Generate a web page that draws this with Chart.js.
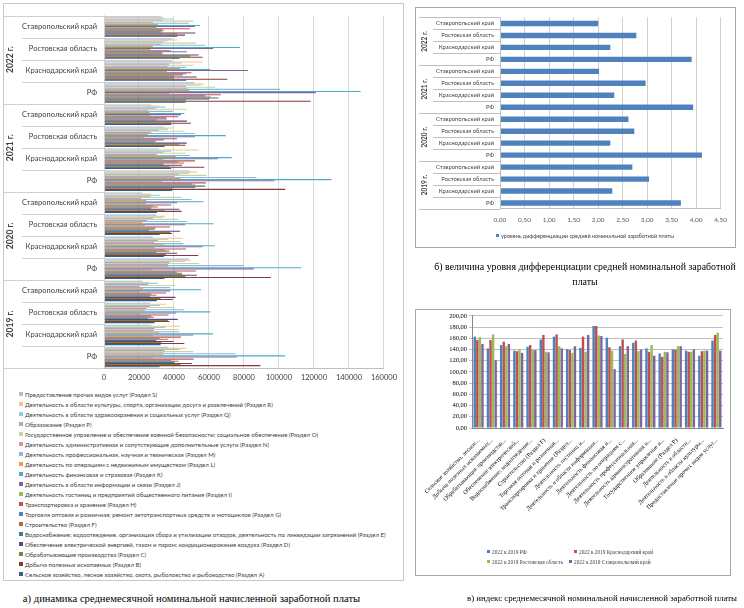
<!DOCTYPE html>
<html lang="ru">
<head>
<meta charset="utf-8">
<script src="https://cdn.jsdelivr.net/npm/chart.js@4.4.0/dist/chart.umd.min.js"></script>
<style>
body { margin:0; width:744px; height:608px; background:#fff; position:relative; overflow:hidden; }
.ramka { position:absolute; border:1px solid #c8c8c8; box-sizing:border-box; }
canvas { position:absolute; }
.podpis { position:absolute; font-family:'Liberation Serif','DejaVu Serif',serif; color:#000; white-space:nowrap; text-align:center; }
#legA { position:absolute; left:19px; top:390px; font-family:Lato,'Liberation Sans',sans-serif; font-size:6.05px; color:#404040; }
#legA div { height:10px; line-height:10px; white-space:nowrap; }
.sw { display:inline-block; width:4px; height:4px; margin-right:2px; vertical-align:middle; position:relative; top:-1px; }
.leg { position:absolute; white-space:nowrap; color:#404040; line-height:8px; }
</style>
</head>
<body>

<div class="ramka" style="left:3px;top:3px;width:401px;height:578px;"></div>
<canvas id="chartA" width="398" height="384" style="left:4px;top:4px;"></canvas>
<div id="legA"></div>
<div class="podpis" style="left:0px;top:591px;width:383px;font-size:10.6px;line-height:15px;">а) динамика среднемесячной номинальной начисленной заработной платы</div>

<div class="ramka" style="left:415px;top:7px;width:321px;height:241px;border-color:#a6a6a6;"></div>
<canvas id="chartB" width="318" height="238" style="left:416px;top:8px;"></canvas>
<div id="legB"></div>
<div class="podpis" style="left:430px;top:259px;width:310px;font-size:9.9px;line-height:15px;">б) величина уровня дифференциации средней номинальной заработной<br>платы</div>

<div class="ramka" style="left:415px;top:309px;width:316px;height:267px;border-color:#a6a6a6;"></div>
<canvas id="chartC" width="313" height="230" style="left:416px;top:310px;"></canvas>
<div id="legC"></div>
<div class="podpis" style="left:462px;top:591px;width:280px;font-size:8.8px;line-height:15px;">в) индекс среднемесячной номинальной начисленной заработной платы</div>

<script>
// --- а) зарплата по разделам ---
var regiony = ["Ставропольский край", "Ростовская область", "Краснодарский край", "РФ"];
var gody = ["2022 г.", "2021 г.", "2020 г.", "2019 г."];

// порядок значений: 2022 (Ставр, Рост, Крас, РФ), 2021 ..., 2020 ..., 2019 ...
var razdelS = [32700, 38900, 38900, 51600, 27000, 34600, 31400, 49100, 21900, 29900, 28000, 48400, 22300, 26500, 27000, 36500];
var razdelR = [34200, 41800, 56300, 57300, 31800, 39300, 54100, 53100, 27000, 35200, 45000, 49700, 26100, 35500, 43500, 46900];
var razdelQ = [39700, 36500, 44600, 55400, 35200, 36500, 38400, 48400, 32100, 33600, 36500, 46500, 30800, 31800, 35000, 43100];
var razdelP = [33600, 34000, 37400, 46900, 29500, 31400, 34000, 43100, 26500, 28000, 30800, 37400, 25100, 26100, 28900, 34600];
var razdelO = [51000, 52500, 51200, 63500, 47300, 46100, 46500, 58600, 44000, 42700, 44000, 54400, 40800, 40300, 42700, 51000];
var razdelN = [28000, 32700, 36500, 47800, 25100, 27000, 30200, 40300, 21400, 24600, 28900, 36500, 20400, 24200, 28400, 34000];
var razdelM = [48400, 57800, 47000, 100700, 39300, 52000, 49100, 87100, 50000, 47400, 45400, 79900, 37800, 45900, 43100, 75200];
var razdelL = [30800, 28000, 43500, 48800, 26100, 25100, 41200, 43700, 24200, 21900, 34600, 37000, 22300, 23200, 31400, 33600];
var razdelK = [55000, 77700, 60700, 146700, 45900, 69600, 73000, 130000, 56700, 62600, 63300, 112600, 55400, 60700, 62400, 103600];
var razdelJ = [52000, 62400, 82400, 121100, 44000, 52000, 65200, 97300, 41800, 46500, 56300, 85600, 37800, 41200, 51000, 75800];
var razdelI = [29900, 26500, 36000, 37400, 26100, 23200, 33600, 33100, 23800, 23200, 28900, 27000, 20400, 20400, 28000, 28000];
var razdelH = [49100, 38000, 50000, 66700, 42500, 41800, 52000, 58200, 38400, 37800, 46900, 52500, 35500, 36900, 44000, 51200];
var razdelG = [33300, 47300, 47000, 57800, 35500, 34200, 42500, 50300, 28000, 29500, 34600, 41600, 27000, 27000, 31800, 38400];
var razdelF = [34200, 33300, 45000, 61000, 35900, 29900, 45700, 52200, 30800, 28900, 37400, 44600, 29900, 28500, 36500, 42700];
var razdelE = [32700, 33300, 40000, 65400, 30200, 28900, 34000, 57800, 27000, 25700, 29900, 44600, 26100, 25100, 29900, 40300];
var razdelD = [52200, 54000, 53000, 60100, 47400, 47300, 44600, 52200, 43100, 43500, 41800, 53100, 40800, 42100, 39700, 50300];
var razdelC = [41800, 49300, 40000, 46900, 38400, 43100, 37400, 39300, 34600, 38000, 35500, 46500, 32300, 36500, 32700, 43700];
var razdelB = [46300, 56300, 70500, 118100, 49700, 46500, 57300, 103600, 44400, 38900, 53900, 95400, 39300, 37400, 45900, 89400];
var razdelA = [41800, 43100, 47000, 46500, 38400, 34600, 38400, 38900, 30200, 31800, 34200, 34600, 30200, 28900, 32300, 31800];

var nazvaniya = [
  "Предоставление прочих видов услуг (Раздел S)",
  "Деятельность в области культуры, спорта, организации досуга и развлечений (Раздел R)",
  "Деятельность в области здравоохранения и социальных услуг (Раздел Q)",
  "Образование (Раздел P)",
  "Государственное управление и обеспечение военной безопасности; социальное обеспечение (Раздел O)",
  "Деятельность административная и сопутствующие дополнительные услуги (Раздел N)",
  "Деятельность профессиональная, научная и техническая (Раздел M)",
  "Деятельность по операциям с недвижимым имуществом (Раздел L)",
  "Деятельность финансовая и страховая (Раздел K)",
  "Деятельность в области информации и связи (Раздел J)",
  "Деятельность гостиниц и предприятий общественного питания (Раздел I)",
  "Транспортировка и хранение (Раздел H)",
  "Торговля оптовая и розничная; ремонт автотранспортных средств и мотоциклов (Раздел G)",
  "Строительство (Раздел F)",
  "Водоснабжение; водоотведение, организация сбора и утилизации отходов, деятельность по ликвидации загрязнений  (Раздел E)",
  "Обеспечение электрической энергией, газом и паром; кондиционирование воздуха  (Раздел D)",
  "Обрабатывающие производства (Раздел C)",
  "Добыча полезных ископаемых (Раздел B)",
  "Сельское хозяйство, лесное хозяйство, охота, рыболовство и рыбоводство (Раздел A)"
];
var razdely = [razdelS, razdelR, razdelQ, razdelP, razdelO, razdelN, razdelM, razdelL, razdelK, razdelJ,
               razdelI, razdelH, razdelG, razdelF, razdelE, razdelD, razdelC, razdelB, razdelA];
var cveta = ["#A9BCD8", "#FAC090", "#93CDDD", "#B3A2C7", "#C3D69B", "#D99694", "#95B3D7", "#F79646", "#4BACC6", "#8064A2",
             "#9BBB59", "#C0504D", "#4F81BD", "#B66D31", "#357D91", "#5C4776", "#71893F", "#8C3836", "#385D8A"];

// --- б) уровень дифференциации ---
var differenciaciya = [2.00, 2.78, 2.25, 3.91, 2.02, 2.97, 2.33, 3.94, 2.62, 2.74, 2.25, 4.12, 2.70, 3.04, 2.29, 3.69];
var legendaB = "уровень дифференциации средней номинальной заработной платы";

// --- в) индекс 2022 к 2019 ---
var otrasli = [
  "Сельское хозяйство, лесное...", "Добыча полезных ископаемых...", "Обрабатывающие производства...",
  "Обеспечение электрической...", "Водоснабжение; водоотведение...", "Строительство (Раздел F)",
  "Торговля оптовая и розничная...", "Транспортировка и хранение (Раздел...", "Деятельность гостиниц и...",
  "Деятельность в области информации...", "Деятельность финансовая и...", "Деятельность по операциям с...",
  "Деятельность профессиональная...", "Деятельность административная и...", "Государственное управление и...",
  "Образование (Раздел P)", "Деятельность в области...", "Деятельность в области культуры...",
  "Предоставление прочих видов услуг..."
];
var indeksRF   = [163, 142, 148, 138, 145, 158, 163, 141, 143, 182, 161, 146, 152, 142, 133, 140, 138, 129, 156];
var indeksKras = [157, 157, 154, 137, 148, 166, 167, 139, 163, 182, 144, 158, 156, 136, 127, 140, 136, 137, 166];
var indeksRost = [162, 167, 146, 140, 139, 136, 146, 134, 136, 165, 138, 132, 137, 148, 136, 146, 136, 138, 170];
var indeksStav = [150, 121, 150, 134, 139, 135, 142, 146, 166, 164, 105, 146, 140, 129, 135, 146, 140, 138, 138];
var serii = ["2022 к 2019 РФ", "2022 к 2019 Краснодарский край", "2022 к 2019 Ростовская область", "2022 к 2019 Ставропольский край"];


var kategorii = [];
for (var g = 0; g < gody.length; g++) {
    for (var r = 0; r < regiony.length; r++) {
        kategorii.push(regiony[r]);
    }
}

function zapyataya(v) {
    return Number(v).toFixed(2).replace('.', ',');
}

// подписи годов и разделители на оси категорий
var gruppyPlugin = {
    id: 'gruppy',
    afterDraw: function(chart, args, o) {
        var ctx = chart.ctx;
        var sc = chart.scales.y;
        var a = chart.chartArea;
        var n = chart.data.labels.length;
        var shag = sc.getPixelForTick(1) - sc.getPixelForTick(0);
        var start = sc.getPixelForTick(0) - shag / 2;
        ctx.save();
        ctx.strokeStyle = o.lineColor;
        ctx.lineWidth = 1;
        for (var i = 0; i <= n; i++) {
            var y = Math.round(start + shag * i) + 0.5;
            var x0 = (i % o.size == 0) ? o.groupLeft : o.catLeft;
            ctx.beginPath();
            ctx.moveTo(x0, y);
            ctx.lineTo(a.left, y);
            ctx.stroke();
        }
        ctx.beginPath();
        ctx.moveTo(Math.round(a.left) + 0.5, a.top);
        ctx.lineTo(Math.round(a.left) + 0.5, a.bottom);
        ctx.stroke();
        ctx.fillStyle = o.color;
        ctx.font = o.font;
        ctx.textAlign = 'center';
        ctx.textBaseline = 'middle';
        for (var g = 0; g < o.labels.length; g++) {
            var yc = start + shag * (g * o.size + o.size / 2);
            ctx.save();
            ctx.translate(o.textX, yc);
            ctx.rotate(-Math.PI / 2);
            ctx.fillText(o.labels[g], 0, 0);
            ctx.restore();
        }
        ctx.restore();
    }
};

// ---------- а ----------
var naboryA = [];
for (var i = 0; i < razdely.length; i++) {
    naboryA.push({ label: nazvaniya[i], data: razdely[i], backgroundColor: cveta[i], borderWidth: 0 });
}
new Chart(document.getElementById('chartA'), {
    type: 'bar',
    data: { labels: kategorii, datasets: naboryA },
    options: {
        indexAxis: 'y',
        responsive: false,
        animation: false,
        layout: { padding: { top: 4, right: 16, left: 0, bottom: 0 } },
        datasets: { bar: { barPercentage: 1, categoryPercentage: 0.93 } },
        plugins: {
            legend: { display: false },
            tooltip: { enabled: false },
            gruppy: { labels: gody, size: 4, groupLeft: 0, catLeft: 18, textX: 6,
                      lineColor: '#d0d0d0', color: '#404040', font: 'bold 8.5px Lato' }
        },
        scales: {
            x: {
                min: 0, max: 160000,
                ticks: { stepSize: 20000, color: '#404040', font: { size: 7.5, family: 'Lato' }, padding: 5,
                         callback: function(v) { return String(v); } },
                grid: { color: '#d9d9d9', drawTicks: false },
                border: { color: '#bfbfbf' },
                afterFit: function(s) { s.height = 20; }
            },
            y: {
                ticks: { autoSkip: false, color: '#404040', font: { size: 7.5, family: 'Lato' }, padding: 7 },
                grid: { display: false, drawTicks: false },
                border: { display: false },
                afterFit: function(s) { s.width = 100; }
            }
        }
    },
    plugins: [gruppyPlugin]
});

var legA = document.getElementById('legA');
for (var i = 0; i < nazvaniya.length; i++) {
    var d = document.createElement('div');
    var sw = document.createElement('span');
    sw.className = 'sw';
    sw.style.background = cveta[i];
    d.appendChild(sw);
    d.appendChild(document.createTextNode(nazvaniya[i]));
    legA.appendChild(d);
}

// ---------- б ----------
new Chart(document.getElementById('chartB'), {
    type: 'bar',
    data: { labels: kategorii, datasets: [{ label: legendaB, data: differenciaciya, backgroundColor: '#4F81BD', borderWidth: 0 }] },
    options: {
        indexAxis: 'y',
        responsive: false,
        animation: false,
        layout: { padding: { top: 7, right: 13, left: 0, bottom: 0 } },
        datasets: { bar: { barPercentage: 0.9, categoryPercentage: 0.5 } },
        plugins: {
            legend: { display: false },
            tooltip: { enabled: false },
            gruppy: { labels: gody, size: 4, groupLeft: 3, catLeft: 17, textX: 9,
                      lineColor: '#bfbfbf', color: '#404040', font: 'bold 6.5px Lato' }
        },
        scales: {
            x: {
                min: 0, max: 4.5,
                ticks: { stepSize: 0.5, color: '#595959', font: { size: 6.5, family: 'Lato' }, padding: 7,
                         callback: function(v) { return zapyataya(v); } },
                grid: { color: '#d0d0d0', drawTicks: false },
                border: { color: '#bfbfbf' },
                afterFit: function(s) { s.height = 37; }
            },
            y: {
                ticks: { autoSkip: false, color: '#404040', font: { size: 5.8, family: 'Lato' }, padding: 6 },
                grid: { display: false, drawTicks: false },
                border: { display: false },
                afterFit: function(s) { s.width = 84; }
            }
        }
    },
    plugins: [gruppyPlugin]
});

var legB = document.getElementById('legB');
legB.innerHTML = '<div class="leg" style="left:496px;top:233px;font:5.5px Lato;"><span class="sw" style="background:#4F81BD;width:3px;height:3px;"></span>' + legendaB + '</div>';

// ---------- в ----------
var cvetaC = ['#4F81BD', '#C0504D', '#9BBB59', '#8064A2'];
var dannyeC = [indeksRF, indeksKras, indeksRost, indeksStav];
var naboryC = [];
for (var i = 0; i < serii.length; i++) {
    naboryC.push({ label: serii[i], data: dannyeC[i], backgroundColor: cvetaC[i], borderWidth: 0 });
}
new Chart(document.getElementById('chartC'), {
    type: 'bar',
    data: { labels: otrasli, datasets: naboryC },
    options: {
        responsive: false,
        animation: false,
        layout: { padding: { top: 5, right: 6, left: 0, bottom: 0 } },
        datasets: { bar: { barPercentage: 0.95, categoryPercentage: 0.78 } },
        plugins: { legend: { display: false }, tooltip: { enabled: false } },
        scales: {
            x: {
                ticks: { autoSkip: false, maxRotation: 45, minRotation: 45, color: '#000',
                         font: { size: 6, family: 'Liberation Serif' }, padding: 1 },
                grid: { display: false },
                border: { color: '#868686' },
                afterFit: function(s) { s.height = 112; }
            },
            y: {
                min: 0, max: 200,
                ticks: { stepSize: 20, color: '#000', font: { size: 6.5, family: 'Liberation Serif' }, padding: 2,
                         callback: function(v) { return zapyataya(v); } },
                grid: { color: '#bfbfbf', tickLength: 3 },
                border: { color: '#868686' },
                afterFit: function(s) { s.width = 56; }
            }
        }
    }
});

var polozheniyaC = [[487, 549], [574, 549], [487, 559], [569, 559]];
var htmlC = '';
for (var i = 0; i < serii.length; i++) {
    htmlC += '<div class="leg" style="left:' + polozheniyaC[i][0] + 'px;top:' + polozheniyaC[i][1] +
             'px;font:5.3px \'Liberation Serif\';"><span class="sw" style="background:' + cvetaC[i] +
             ';width:3px;height:3px;"></span>' + serii[i] + '</div>';
}
document.getElementById('legC').innerHTML = htmlC;
</script>
</body>
</html>
